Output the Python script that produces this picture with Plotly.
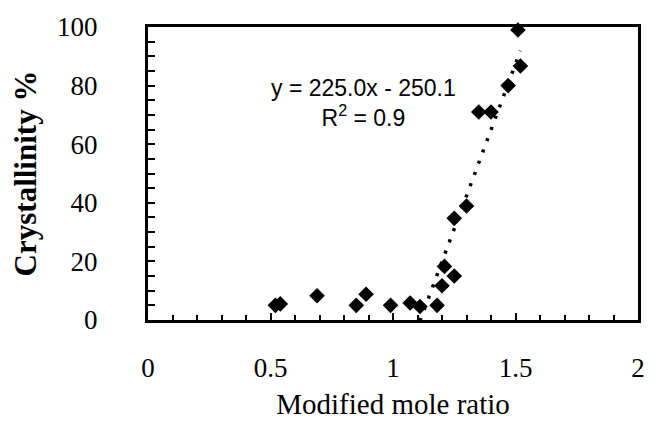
import plotly.graph_objects as go

# Measured crystallinity versus modified mole ratio
mole_ratio = [0.52, 0.54, 0.69, 0.85, 0.89, 0.99, 1.07, 1.11, 1.18,
              1.20, 1.21, 1.25, 1.25, 1.30, 1.35, 1.40, 1.47, 1.51, 1.52]
crystallinity = [5.0, 5.5, 8.3, 5.0, 8.8, 5.0, 5.8, 4.6, 5.0,
                 11.7, 18.3, 15.0, 34.7, 38.9, 71.0, 71.0, 80.0, 99.0, 86.7]

# Linear fit over the crystallising region
trend_slope = 225.0
trend_intercept = -250.1
trend_r2 = 0.9
trend_x = [1.11, 1.52]
trend_y = [trend_slope * v + trend_intercept for v in trend_x]

x_ticks = [0, 0.5, 1, 1.5, 2]
x_tick_text = ["0", "0.5", "1", "1.5", "2"]
y_ticks = [0, 20, 40, 60, 80, 100]

serif = "Times New Roman, Liberation Serif, serif"
sans = "Arial, Liberation Sans, sans-serif"

fig = go.Figure()

fig.add_trace(go.Scatter(
    x=trend_x, y=trend_y, mode="lines",
    line=dict(color="black", width=3.5, dash="3px,9px"),
    hoverinfo="skip", showlegend=False, cliponaxis=False,
))

fig.add_trace(go.Scatter(
    x=mole_ratio, y=crystallinity, mode="markers",
    marker=dict(symbol="diamond", size=12, color="black",
                line=dict(width=0)),
    showlegend=False, cliponaxis=False,
))

fig.add_annotation(
    x=0.88, y=74, xref="x", yref="y",
    text=f"y = {trend_slope:.1f}x - {-trend_intercept:.1f}<br>R<sup>2</sup> = {trend_r2}",
    showarrow=False, align="center",
    font=dict(family=sans, size=23, color="black"),
)

fig.update_layout(
    width=658, height=430,
    margin=dict(l=148, r=20, t=20, b=110),
    paper_bgcolor="white", plot_bgcolor="white",
    showlegend=False,
    xaxis=dict(
        range=[0, 2], tickvals=x_ticks, ticktext=x_tick_text,
        ticks="inside", ticklen=7, tickwidth=2, tickcolor="black",
        minor=dict(dtick=0.1, ticks="inside", ticklen=5, tickwidth=2,
                   tickcolor="black", showgrid=False),
        showline=True, linewidth=3, linecolor="black", mirror=True,
        showgrid=False, zeroline=False,
        tickfont=dict(family=serif, size=27, color="black"),
        ticklabelstandoff=22,
        title=dict(text="Modified mole ratio",
                   font=dict(family=serif, size=29, color="black"),
                   standoff=12),
    ),
    yaxis=dict(
        range=[0, 100], tickvals=y_ticks,
        ticks="inside", ticklen=7, tickwidth=2, tickcolor="black",
        minor=dict(dtick=5, ticks="inside", ticklen=7, tickwidth=2,
                   tickcolor="black", showgrid=False),
        showline=True, linewidth=3, linecolor="black", mirror=True,
        showgrid=False, zeroline=False,
        tickfont=dict(family=serif, size=27, color="black"),
        ticklabelstandoff=42,
        title=dict(text="<b>Crystallinity %</b>",
                   font=dict(family=serif, size=31, color="black"),
                   standoff=12),
    ),
)

fig.write_html("out.html")
